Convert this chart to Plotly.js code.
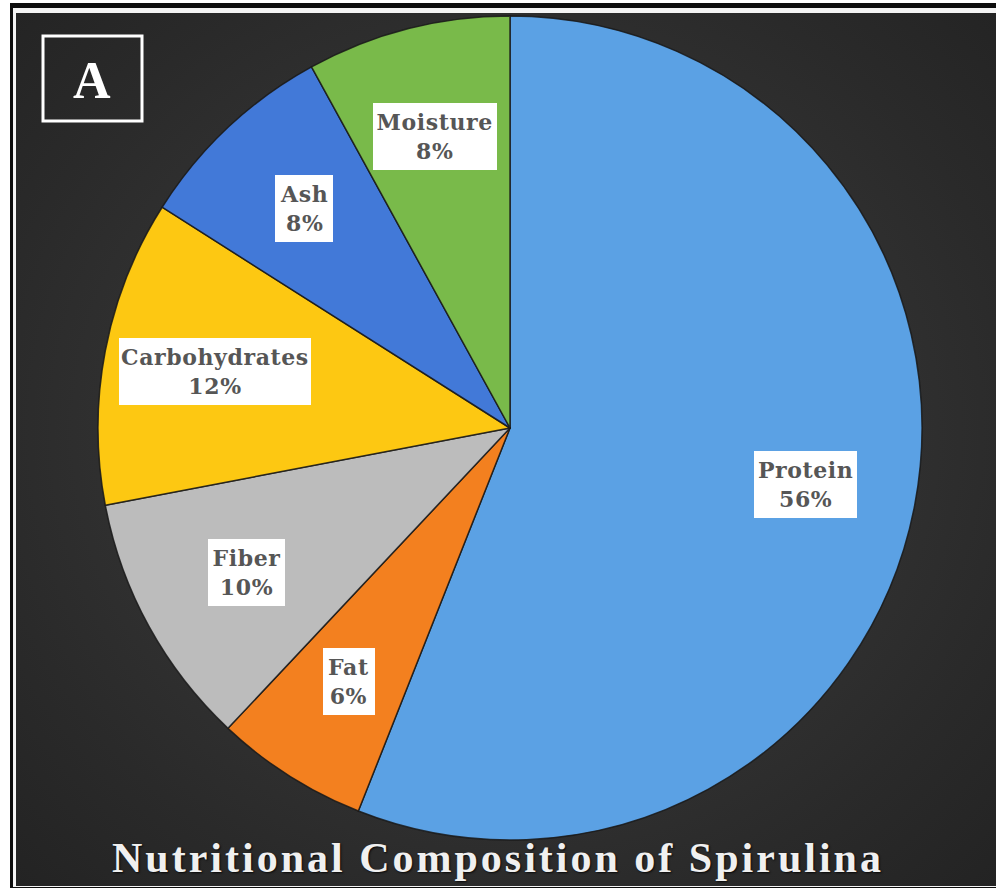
<!DOCTYPE html>
<html>
<head>
<meta charset="utf-8">
<script src="https://cdn.plot.ly/plotly-3.0.1.min.js"></script>
<style>
  html, body { margin: 0; padding: 0; background: #ffffff; width: 996px; height: 890px; overflow: hidden; }
  #f1 { position: absolute; left: 10px; top: 3px; width: 986px; height: 885px; background: #0d0d0d; }
  #f2 { position: absolute; left: 13px; top: 8px; width: 983px; height: 879px; background: #f4f4f4; }
  #f3 { position: absolute; left: 16px; top: 13px; width: 980px; height: 873px;
        background: radial-gradient(ellipse at 50% 48%, #404040 0%, #353535 40%, #2a2a2a 75%, #232323 100%); }
  #chart { position: absolute; left: 0; top: 0; width: 996px; height: 890px; }
  #chart .annotation[data-index="6"] text { letter-spacing: 3px; }
  #chart .annotation[data-index="0"] text, #chart .annotation[data-index="1"] text,
  #chart .annotation[data-index="2"] text, #chart .annotation[data-index="3"] text,
  #chart .annotation[data-index="4"] text, #chart .annotation[data-index="5"] text { letter-spacing: 0.6px; }
</style>
</head>
<body>
<div id="f1"></div><div id="f2"></div><div id="f3"></div>
<div id="chart"></div>
<script>
// ---- data ----
const categories = ["Protein", "Fat", "Fiber", "Carbohydrates", "Ash", "Moisture"];
const values = [56, 6, 10, 12, 8, 8];
const chartTitle = "Nutritional Composition of Spirulina";
const panelLetter = "A";

// ---- styles ----
const sliceColors = ["#5ba1e4", "#f3801f", "#bcbcbc", "#fdc812", "#4279d8", "#79ba4a"];
const W = 996, H = 890;
const cx = 510, cy = 428, R = 412;          // pie centre / radius in px
const labelRadius = 0.73;                    // fraction of radius for label boxes

const px2x = p => p / W;
const px2y = p => 1 - p / H;

const trace = {
  type: "pie",
  labels: categories,
  values: values,
  sort: false,
  direction: "clockwise",
  rotation: 0,
  textinfo: "none",
  hoverinfo: "label+percent",
  marker: { colors: sliceColors, line: { color: "rgba(25,25,25,0.85)", width: 1.5 } },
  domain: { x: [px2x(cx - R), px2x(cx + R)], y: [px2y(cy + R), px2y(cy - R)] },
  showlegend: false
};

// label annotations placed at each slice's mid-angle (computed from the data)
const total = values.reduce((a, b) => a + b, 0);
let cum = 0;
const annotations = [];
values.forEach((v, i) => {
  const mid = (cum + v / 2) / total * 2 * Math.PI;
  cum += v;
  const pct = Math.round(v / total * 100);
  const lx = cx + labelRadius * R * Math.sin(mid);
  const ly = cy - labelRadius * R * Math.cos(mid);
  annotations.push({
    x: px2x(lx), y: px2y(ly), xref: "paper", yref: "paper",
    text: categories[i] + "<br>" + pct + "%",
    showarrow: false,
    font: { family: "DejaVu Serif", size: 22, color: "#565656", weight: "bold" },
    bgcolor: "#ffffff", borderpad: 6, borderwidth: 0,
    xanchor: "center", yanchor: "middle"
  });
});

annotations.push({
  x: 0.5, y: px2y(858), xref: "paper", yref: "paper",
  text: "<b>" + chartTitle + "</b>", showarrow: false,
  font: { family: "Liberation Serif", size: 42, color: "#f0f0f0",
          shadow: "1px 1px 2px rgba(0,0,0,0.8)" },
  xanchor: "center", yanchor: "middle"
});
annotations.push({
  x: px2x(92), y: px2y(80), xref: "paper", yref: "paper",
  text: "<b>" + panelLetter + "</b>", showarrow: false,
  font: { family: "Liberation Serif", size: 52, color: "#ffffff" },
  xanchor: "center", yanchor: "middle"
});

const layout = {
  width: W, height: H,
  margin: { l: 0, r: 0, t: 0, b: 0 },
  paper_bgcolor: "rgba(0,0,0,0)",
  plot_bgcolor: "rgba(0,0,0,0)",
  showlegend: false,
  annotations: annotations,
  shapes: [{
    type: "rect", xref: "paper", yref: "paper",
    x0: px2x(43), x1: px2x(142), y0: px2y(36), y1: px2y(121),
    line: { color: "#ffffff", width: 3 }, fillcolor: "rgba(0,0,0,0)"
  }]
};

Plotly.newPlot("chart", [trace], layout, { staticPlot: true, displayModeBar: false });
</script>
</body>
</html>
